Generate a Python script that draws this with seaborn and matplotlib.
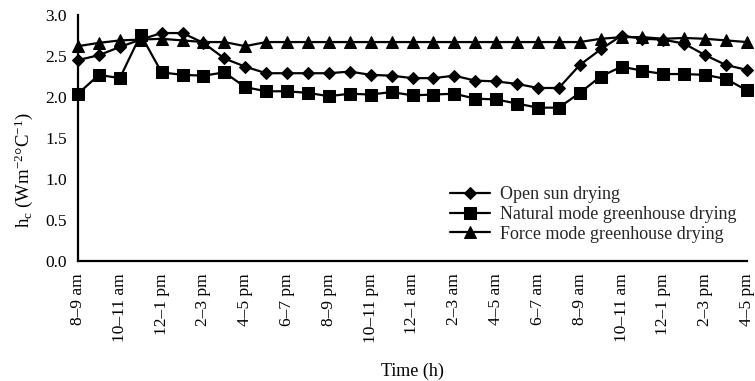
import numpy as np
import pandas as pd
import matplotlib
matplotlib.use("Agg")
import matplotlib.pyplot as plt
import seaborn as sns

# Hourly intervals from 8-9 am (day 1) to 4-5 pm (day 2)
hour_index = list(range(33))
tick_labels = ["8–9 am", "10–11 am", "12–1 pm", "2–3 pm", "4–5 pm", "6–7 pm",
               "8–9 pm", "10–11 pm", "12–1 am", "2–3 am", "4–5 am", "6–7 am",
               "8–9 am", "10–11 am", "12–1 pm", "2–3 pm", "4–5 pm"]

# Convective heat transfer coefficient h_c (W m^-2 °C^-1)
open_sun = [2.45, 2.51, 2.61, 2.70, 2.78, 2.78, 2.66, 2.47, 2.37, 2.29, 2.29,
            2.29, 2.29, 2.31, 2.27, 2.26, 2.23, 2.23, 2.26, 2.20, 2.19, 2.16,
            2.11, 2.11, 2.39, 2.58, 2.75, 2.71, 2.70, 2.65, 2.51, 2.39, 2.33]
natural_mode = [2.04, 2.27, 2.23, 2.76, 2.30, 2.27, 2.26, 2.30, 2.12, 2.07, 2.07,
                2.05, 2.01, 2.04, 2.03, 2.06, 2.02, 2.03, 2.04, 1.98, 1.97, 1.92,
                1.87, 1.87, 2.05, 2.25, 2.37, 2.32, 2.28, 2.28, 2.27, 2.22, 2.08]
force_mode = [2.62, 2.66, 2.69, 2.70, 2.71, 2.69, 2.67, 2.67, 2.62, 2.67, 2.67,
              2.67, 2.67, 2.67, 2.67, 2.67, 2.67, 2.67, 2.67, 2.67, 2.67, 2.67,
              2.67, 2.67, 2.67, 2.71, 2.73, 2.73, 2.71, 2.72, 2.71, 2.69, 2.67]

series_names = ["Open sun drying", "Natural mode greenhouse drying",
                "Force mode greenhouse drying"]
series_values = [open_sun, natural_mode, force_mode]
series_markers = ["D", "s", "^"]
marker_sizes = [6, 8, 8]

sns.set_theme(style="white")
plt.rcParams["font.family"] = ["Liberation Serif", "DejaVu Serif"]
plt.rcParams["mathtext.fontset"] = "custom"
plt.rcParams["mathtext.rm"] = "Liberation Serif"
plt.rcParams["mathtext.it"] = "Liberation Serif:italic"

fig = plt.figure(figsize=(7.55, 3.81), dpi=100)
ax = fig.add_axes([78 / 755, 1 - 261 / 381, (747 - 78) / 755, (261 - 15) / 381])

for name, vals, mk, ms in zip(series_names, series_values, series_markers, marker_sizes):
    df = pd.DataFrame({"hour": hour_index, "hc": vals})
    sns.lineplot(data=df, x="hour", y="hc", ax=ax, color="black", linewidth=1.6,
                 marker=mk, markersize=ms, markeredgecolor="black",
                 markerfacecolor="black", label=name, clip_on=False)

ax.set_xlim(0, 32)
ax.set_ylim(0, 3.0)
ax.set_yticks(np.arange(0, 3.01, 0.5))
ax.set_yticklabels([f"{v:.1f}" for v in np.arange(0, 3.01, 0.5)])
ax.set_xticks(hour_index, minor=False)
ax.set_xticklabels([tick_labels[i // 2] if i % 2 == 0 else "" for i in hour_index],
                   rotation=90)

for side in ["top", "right"]:
    ax.spines[side].set_visible(False)
for side in ["left", "bottom"]:
    ax.spines[side].set_color("black")
    ax.spines[side].set_linewidth(1.6)

ax.tick_params(axis="both", direction="out", length=5, width=1.4, color="black",
               labelsize=12.5, labelcolor="black", pad=3)
ax.tick_params(axis="x", pad=4)

ax.set_xlabel("Time (h)", fontsize=13, color="black", labelpad=14)
ax.set_ylabel(r"h$_\mathregular{c}$ (Wm$^{\mathregular{-2}}$°C$^{\mathregular{-1}}$)",
              fontsize=13.5, color="black")
ax.yaxis.set_label_coords(-0.064, 0.37)

leg = ax.legend(loc="lower left", bbox_to_anchor=(0.545, 0.045), frameon=False,
                fontsize=13, handlelength=2.2, handletextpad=0.6,
                labelspacing=0.15, borderaxespad=0)

fig.savefig("out.png", dpi=100)
